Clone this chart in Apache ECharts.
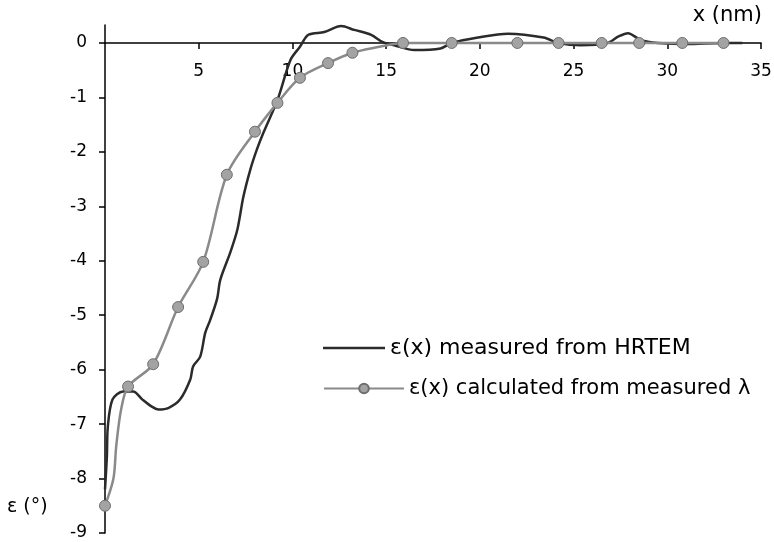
<!DOCTYPE html>
<html>
<head>
<meta charset="utf-8">
<script src="https://cdn.jsdelivr.net/npm/echarts@6/dist/echarts.min.js"></script>
<style>
html,body{margin:0;padding:0;background:#fff;}
#c{width:774px;height:542px;}
</style>
</head>
<body>
<div id="c"></div>
<script>
// Measured from HRTEM (x in nm, epsilon in degrees)
var measX = [0, 0.1, 0.15, 0.4, 0.96, 1.5, 2.0, 2.5, 2.85, 3.4, 4.0, 4.55, 4.7, 5.08, 5.35, 5.6, 5.98, 6.15, 6.68, 7.06, 7.38, 7.75, 8.1, 8.45, 9.2, 9.9, 10.4, 10.85, 11.7, 12.6, 13.3, 14.2, 14.8, 15.5, 16.5, 17.9, 18.5, 19.9, 21.5, 23.4, 24.2, 25.4, 26.8, 27.4, 27.9, 28.6, 29.5, 31.0, 33.0, 34.0];
var measY = [-8.2, -7.6, -7.05, -6.55, -6.4, -6.4, -6.55, -6.68, -6.73, -6.7, -6.55, -6.18, -5.94, -5.76, -5.32, -5.1, -4.7, -4.35, -3.85, -3.43, -2.83, -2.33, -1.96, -1.65, -1.05, -0.31, -0.07, 0.15, 0.2, 0.31, 0.24, 0.15, 0.02, -0.05, -0.13, -0.1, 0, 0.1, 0.17, 0.1, 0, -0.04, 0, 0.12, 0.18, 0.05, 0, -0.02, 0, 0];

// Calculated from measured lambda: marked points
var calcX = [0, 1.23, 2.57, 3.9, 5.24, 6.5, 8.0, 9.2, 10.4, 11.9, 13.2, 15.9, 18.5, 22.0, 24.2, 26.5, 28.5, 30.8, 33.0];
var calcY = [-8.5, -6.31, -5.9, -4.85, -4.02, -2.42, -1.63, -1.1, -0.64, -0.37, -0.18, 0, 0, 0, 0, 0, 0, 0, 0];
// Calculated curve: intermediate (unmarked) points
var calcPathX = [0.45, 0.6, 0.85, 14.5];
var calcPathY = [-8.0, -7.4, -6.75, -0.08];

var xTicks = [5, 10, 15, 20, 25, 30, 35];
var yTicks = [-9, -8, -7, -6, -5, -4, -3, -2, -1, 0];

var nameMeas = 'ε(x) measured from HRTEM';
var nameCalc = 'ε(x) calculated from measured λ';

var measData = measX.map(function (x, i) { return [x, measY[i]]; });
var calcAll = calcX.map(function (x, i) { return { value: [x, calcY[i]] }; })
  .concat(calcPathX.map(function (x, i) { return { value: [x, calcPathY[i]], symbol: 'none' }; }))
  .sort(function (a, b) { return a.value[0] - b.value[0]; });

var FONT = 'DejaVu Sans, Verdana, sans-serif';
var chart = echarts.init(document.getElementById('c'));
chart.setOption({
  animation: false,
  backgroundColor: '#fff',
  grid: [
    { left: 105, right: 13, top: 25, bottom: 9, containLabel: false, outerBoundsMode: 'none' },
    { left: 105, right: 13, top: 25, height: 18, containLabel: false, outerBoundsMode: 'none' }
  ],
  xAxis: [
    { gridIndex: 0, type: 'value', min: 0, max: 35, show: false, splitLine: { show: false } },
    {
      gridIndex: 1, type: 'value', min: 0, max: 35, interval: 5, position: 'bottom',
      axisLine: { onZero: false, lineStyle: { color: '#000', width: 1.5 } },
      axisTick: { customValues: xTicks, length: 6, lineStyle: { color: '#000', width: 1.5 } },
      axisLabel: { customValues: xTicks, margin: 20, fontSize: 17, color: '#000', fontFamily: FONT },
      splitLine: { show: false }
    }
  ],
  yAxis: [
    {
      gridIndex: 0, type: 'value', min: -9, max: 0.33, interval: 1,
      axisLine: { show: true, onZero: false, lineStyle: { color: '#000', width: 1.5 } },
      axisTick: { show: true, customValues: yTicks, length: 6, lineStyle: { color: '#000', width: 1.5 } },
      axisLabel: { customValues: yTicks, margin: 18, fontSize: 17, color: '#000', fontFamily: FONT },
      splitLine: { show: false }
    },
    { gridIndex: 1, type: 'value', min: 0, max: 1, show: false, splitLine: { show: false } }
  ],
  legend: [
    { data: [{ name: nameMeas, icon: 'rect' }], left: 318, top: 332, itemWidth: 62, itemHeight: 2.5, itemGap: 10,
      itemStyle: { color: '#2b2b2b' },
      textStyle: { fontSize: 22, color: '#000', fontFamily: FONT, padding: [0, 0, 0, 0] } },
    { data: [nameCalc], left: 318, top: 373, itemWidth: 80, itemHeight: 12, itemGap: 10,
      textStyle: { fontSize: 21, color: '#000', fontFamily: FONT } }
  ],
  graphic: [
    { type: 'text', right: 12, top: 5, style: { text: 'x (nm)', fontSize: 21, fill: '#000', fontFamily: FONT } },
    { type: 'text', left: 7, top: 498, style: { text: 'ε (°)', fontSize: 19, fill: '#000', fontFamily: FONT } }
  ],
  series: [
    {
      name: nameMeas, type: 'line', xAxisIndex: 0, yAxisIndex: 0, data: measData,
      showSymbol: false, symbol: 'none', smooth: 0.3,
      lineStyle: { color: '#2b2b2b', width: 2.5 }, itemStyle: { color: '#2b2b2b' }
    },
    {
      name: nameCalc, type: 'line', xAxisIndex: 0, yAxisIndex: 0, data: calcAll,
      symbol: 'circle', symbolSize: 11, smooth: 0.3,
      lineStyle: { color: '#8a8a8a', width: 2.5 },
      itemStyle: { color: '#a3a3a3', borderColor: '#6e6e6e', borderWidth: 1 }
    }
  ]
});
</script>
</body>
</html>
